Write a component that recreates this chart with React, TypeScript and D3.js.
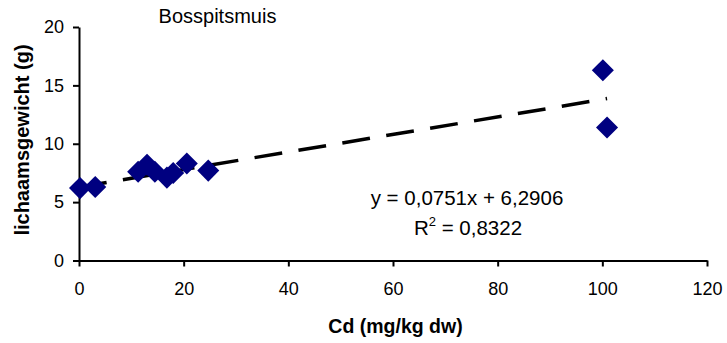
import * as d3 from "d3";
import { useRef, useEffect } from "react";

const cdValues = [0.2, 3.1, 11.3, 13.0, 14.5, 16.8, 18.0, 20.6, 24.7, 100.1, 100.9];
const weightValues = [6.2, 6.3, 7.6, 8.2, 7.6, 7.1, 7.5, 8.3, 7.7, 16.3, 11.4];
const xTicks = [0, 20, 40, 60, 80, 100, 120];
const yTicks = [0, 5, 10, 15, 20];
const slope = 0.0751;
const intercept = 6.2906;

const App = () => {
  const container = useRef(null);

  useEffect(() => {
    createChart();
  });

  const createChart = () => {
    const node = container.current;
    const width = 727;
    const height = 343;
    const margins = { l: 79, t: 27, r: 20, b: 82.5 };
    const font = "'Liberation Sans', Arial, sans-serif";

    const svg = d3
      .select(node)
      .selectAll("svg")
      .data([0])
      .join("svg")
      .attr("width", width)
      .attr("height", height)
      .style("display", "block")
      .style("position", "absolute")
      .style("left", 0)
      .style("top", 0);

    svg.selectAll("*").remove();
    svg.append("rect").attr("width", width).attr("height", height).attr("fill", "white");

    const xScale = d3.scaleLinear().domain([0, 120]).range([margins.l, width - margins.r]);
    const yScale = d3.scaleLinear().domain([0, 20]).range([height - margins.b, margins.t]);

    // axes
    const xAxis = d3.axisBottom(xScale).tickValues(xTicks).tickSize(6).tickSizeOuter(0).tickPadding(16);
    const yAxis = d3.axisLeft(yScale).tickValues(yTicks).tickSize(6).tickSizeOuter(0).tickPadding(9);

    const gx = svg
      .append("g")
      .attr("transform", `translate(0,${yScale(0)})`)
      .call(xAxis);
    const gy = svg
      .append("g")
      .attr("transform", `translate(${xScale(0)},0)`)
      .call(yAxis);

    [gx, gy].forEach((g) => {
      g.selectAll("path").attr("stroke", "black").attr("stroke-width", 2);
      g.selectAll("line").attr("stroke", "black").attr("stroke-width", 2);
      g.selectAll("text")
        .attr("fill", "black")
        .style("font-family", font)
        .style("font-size", "18px");
    });

    // trendline
    const xMin = 0;
    const xMax = d3.max(cdValues);
    svg
      .append("line")
      .attr("x1", xScale(xMin))
      .attr("y1", yScale(slope * xMin + intercept))
      .attr("x2", xScale(xMax))
      .attr("y2", yScale(slope * xMax + intercept))
      .attr("stroke", "black")
      .attr("stroke-width", 3.5)
      .attr("stroke-dasharray", "28 16.5");

    // points
    const diamond = d3.symbol().type(d3.symbolDiamond2).size(310);
    svg
      .selectAll(".pt")
      .data(cdValues.map((c, i) => ({ x: c, y: weightValues[i] })))
      .join("path")
      .attr("class", "pt")
      .attr("d", diamond)
      .attr("transform", (d) => `translate(${xScale(d.x)},${yScale(d.y)})`)
      .attr("fill", "#000080");

    // title
    svg
      .append("text")
      .attr("x", 217.5)
      .attr("y", 22.5)
      .attr("text-anchor", "middle")
      .style("font-family", font)
      .style("font-size", "20px")
      .text("Bosspitsmuis");

    // equation
    svg
      .append("text")
      .attr("x", 467)
      .attr("y", 205)
      .attr("text-anchor", "middle")
      .style("font-family", font)
      .style("font-size", "20.5px")
      .text("y = 0,0751x + 6,2906");

    const r2 = svg
      .append("text")
      .attr("x", 468)
      .attr("y", 235)
      .attr("text-anchor", "middle")
      .style("font-family", font)
      .style("font-size", "20.5px");
    r2.append("tspan").text("R");
    r2.append("tspan").attr("dy", -9).style("font-size", "13px").text("2");
    r2.append("tspan").attr("dy", 9).text(" = 0,8322");

    // axis titles
    svg
      .append("text")
      .attr("x", 395.5)
      .attr("y", 333)
      .attr("text-anchor", "middle")
      .style("font-family", font)
      .style("font-size", "19.5px")
      .style("font-weight", "bold")
      .text("Cd (mg/kg dw)");

    svg
      .append("text")
      .attr("transform", `translate(28.5,140) rotate(-90)`)
      .attr("text-anchor", "middle")
      .style("font-family", font)
      .style("font-size", "20px")
      .style("font-weight", "bold")
      .text("lichaamsgewicht (g)");
  };

  return <div ref={container}></div>;
};

export default App;
